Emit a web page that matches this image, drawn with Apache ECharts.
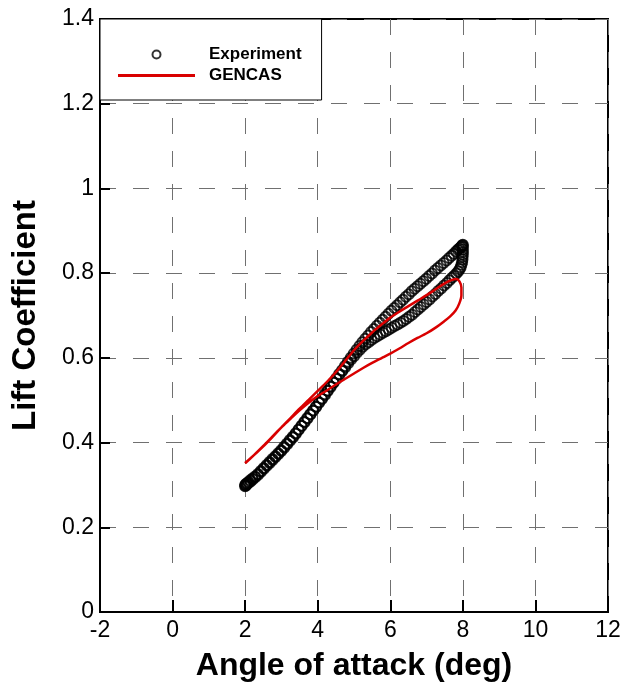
<!DOCTYPE html>
<html>
<head>
<meta charset="utf-8">
<script src="https://cdn.jsdelivr.net/npm/echarts@6/dist/echarts.min.js"></script>
<style>html,body{margin:0;padding:0;background:#fff}#c{width:627px;height:688px}</style>
</head>
<body>
<div id="c"></div>
<script>
// Experiment, upstroke branch
const expUpAlpha = [2.00,2.02,2.05,2.09,2.14,2.20,2.27,2.35,2.43,2.51,2.59,2.67,2.75,2.83,2.91,2.99,3.07,3.15,3.23,3.31,3.39,3.47,3.55,3.63,3.71,3.79,3.87,3.95,4.03,4.11,4.19,4.27,4.35,4.43,4.51,4.59,4.67,4.75,4.83,4.91,4.99,5.07,5.15,5.23,5.31,5.39,5.47,5.55,5.63,5.71,5.79,5.87,5.95,6.03,6.11,6.19,6.27,6.35,6.43,6.51,6.59,6.67,6.75,6.83,6.91,6.99,7.07,7.15,7.23,7.31,7.39,7.47,7.55,7.62,7.69,7.75,7.81,7.86,7.90,7.94,7.97,7.99,8.00];
const expUpCL    = [0.300,0.302,0.304,0.307,0.311,0.315,0.320,0.326,0.333,0.340,0.347,0.354,0.361,0.368,0.375,0.382,0.390,0.398,0.406,0.414,0.422,0.431,0.440,0.449,0.458,0.467,0.476,0.485,0.495,0.504,0.514,0.523,0.533,0.542,0.552,0.562,0.571,0.581,0.591,0.600,0.610,0.619,0.628,0.637,0.645,0.653,0.661,0.668,0.676,0.683,0.690,0.697,0.704,0.711,0.718,0.724,0.731,0.737,0.744,0.750,0.757,0.763,0.769,0.775,0.781,0.787,0.793,0.799,0.806,0.812,0.818,0.824,0.830,0.836,0.841,0.846,0.851,0.855,0.858,0.861,0.864,0.866,0.867];
// Experiment, downstroke branch
const expDnAlpha = [8.00,8.00,8.00,8.00,7.99,7.99,7.98,7.96,7.94,7.91,7.87,7.82,7.76,7.70,7.63,7.56,7.48,7.40,7.32,7.24,7.16,7.08,7.00,6.92,6.84,6.76,6.68,6.60,6.52,6.44,6.36,6.28,6.20,6.12,6.04,5.96,5.88,5.80,5.72,5.64,5.56,5.48,5.40,5.32,5.24,5.16,5.08,5.00,4.92,4.84,4.76,4.68,4.60,4.52,4.44,4.36,4.28,4.20,4.12,4.04,3.96,3.88,3.80,3.72,3.64,3.56,3.48,3.40,3.32,3.24,3.16,3.08,3.00,2.92,2.84,2.76,2.68,2.60,2.52,2.44,2.36,2.28,2.21,2.15,2.10,2.06,2.03,2.01,2.00];
const expDnCL    = [0.862,0.856,0.850,0.844,0.838,0.832,0.826,0.820,0.814,0.809,0.804,0.799,0.794,0.789,0.783,0.777,0.771,0.764,0.758,0.751,0.745,0.738,0.732,0.726,0.720,0.714,0.708,0.702,0.697,0.692,0.687,0.683,0.679,0.675,0.671,0.667,0.663,0.659,0.655,0.651,0.647,0.642,0.637,0.632,0.626,0.619,0.612,0.604,0.596,0.587,0.578,0.569,0.560,0.550,0.541,0.531,0.522,0.512,0.503,0.494,0.484,0.475,0.466,0.457,0.448,0.439,0.430,0.421,0.412,0.404,0.396,0.388,0.380,0.373,0.366,0.359,0.352,0.345,0.338,0.331,0.324,0.318,0.313,0.308,0.305,0.302,0.300,0.298,0.297];
// GENCAS computed loop
const cfdAlpha = [2.00,2.25,2.50,2.75,3.00,3.25,3.50,3.75,4.00,4.25,4.50,4.75,5.00,5.25,5.50,5.75,6.00,6.25,6.50,6.75,7.00,7.25,7.50,7.70,7.82,7.91,7.96,
                  7.96,7.90,7.80,7.65,7.48,7.26,7.00,6.75,6.50,6.25,6.00,5.75,5.50,5.25,5.00,4.75,4.50,4.25,4.00,3.75,3.50,3.25,3.00,2.75,2.50,2.25,2.00];
const cfdCL    = [0.352,0.371,0.392,0.414,0.436,0.458,0.480,0.501,0.522,0.543,0.566,0.592,0.618,0.640,0.660,0.678,0.695,0.709,0.722,0.735,0.748,0.762,0.776,0.784,0.786,0.780,0.766,
                  0.748,0.728,0.712,0.698,0.686,0.672,0.658,0.647,0.635,0.622,0.610,0.599,0.588,0.576,0.563,0.550,0.537,0.523,0.510,0.494,0.476,0.456,0.436,0.413,0.391,0.371,0.351];

const zip = (a, b) => a.map((v, i) => [v, b[i]]);
const expData = zip(expUpAlpha, expUpCL).concat(zip(expDnAlpha, expDnCL));
const cfdData = zip(cfdAlpha, cfdCL);

const chart = echarts.init(document.getElementById('c'), null, {renderer: 'canvas'});
const labelFont = {color: '#000', fontSize: 23, fontFamily: 'Liberation Sans, Arial, sans-serif'};
const gridLine = {show: true, lineStyle: {color: '#707070', width: 1, type: [16, 17]}};
chart.setOption({
  animation: false,
  backgroundColor: '#fff',
  grid: {left: 100, right: 19, top: 19, bottom: 76, show: true, borderColor: '#000', borderWidth: 2, backgroundColor: 'transparent'},
  xAxis: {
    type: 'value', min: -2, max: 12, interval: 2,
    name: 'Angle of attack (deg)', nameLocation: 'middle', nameGap: 38,
    nameTextStyle: {color: '#000', fontSize: 32, fontWeight: 'bold', fontFamily: 'Liberation Sans, Arial, sans-serif'},
    axisLine: {show: true, onZero: false, lineStyle: {color: '#000', width: 2}},
    axisTick: {show: true, inside: true, length: 12, lineStyle: {color: '#000', width: 2}},
    axisLabel: Object.assign({margin: 7}, labelFont),
    splitLine: gridLine
  },
  yAxis: {
    type: 'value', min: 0, max: 1.4, interval: 0.2,
    name: 'Lift Coefficient', nameLocation: 'middle', nameGap: 58, nameRotate: 90,
    nameTextStyle: {color: '#000', fontSize: 33, fontWeight: 'bold', fontFamily: 'Liberation Sans, Arial, sans-serif'},
    axisLine: {show: true, onZero: false, lineStyle: {color: '#000', width: 2}},
    axisTick: {show: true, inside: true, length: 10, lineStyle: {color: '#000', width: 2}},
    axisLabel: Object.assign({margin: 6}, labelFont),
    splitLine: gridLine
  },
  legend: {
    orient: 'vertical', left: 100, top: 19,
    padding: [25, 20, 14, 18],
    itemWidth: 77, itemHeight: 8, itemGap: 0,
    backgroundColor: '#fff', borderColor: '#000', borderWidth: 1,
    textStyle: {color: '#000', fontSize: 17, fontWeight: 'bold', fontFamily: 'Liberation Sans, Arial, sans-serif', lineHeight: 21, padding: [0, 0, 0, 9]},
    data: [
      {name: 'Experiment'},
      {name: 'GENCAS', icon: 'path://M0,0H77V3H0Z', itemStyle: {color: '#d90000', borderWidth: 0}}
    ]
  },
  series: [
    {
      name: 'Experiment', type: 'scatter', data: expData,
      symbol: 'circle', symbolSize: 10,
      itemStyle: {color: 'rgba(0,0,0,0)', borderColor: '#000', borderWidth: 2},
      z: 2
    },
    {
      name: 'GENCAS', type: 'line', data: cfdData,
      symbol: 'none', smooth: 0.3,
      lineStyle: {color: '#d90000', width: 2.5},
      itemStyle: {color: '#d90000'},
      z: 3
    }
  ]
});
</script>
</body>
</html>
